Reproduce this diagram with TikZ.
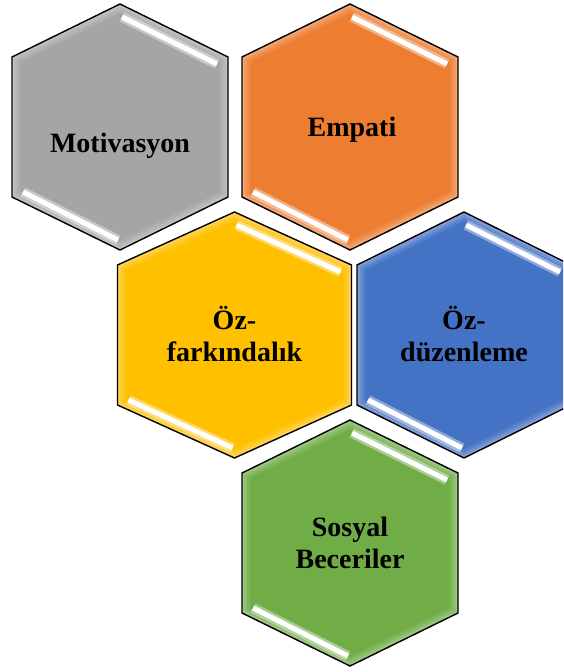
\documentclass[tikz,border=0pt]{standalone}
\usepackage{fontspec}
\setmainfont{Liberation Serif}
\definecolor{cgray}{HTML}{A5A5A5}
\definecolor{corange}{HTML}{ED7D31}
\definecolor{cyellow}{HTML}{FFC000}
\definecolor{cblue}{HTML}{4472C4}
\definecolor{cgreen}{HTML}{70AD47}
\tikzset{
  hexborder/.style={draw=black, line width=1.4pt, line join=miter},
  barglow/.style={white, opacity=0.4, line width=10pt, line cap=butt},
  barcore/.style={white, line width=5pt, line cap=butt},
  hextext/.style={font=\fontsize{28}{32}\selectfont\bfseries, align=center, inner sep=0pt},
}
\newcommand\hexcell[7]{% name, cx, cy, w, color, text, text offset
  \begin{scope}[shift={(#2,#3)}]
    \def\hexpath{(0,-123) -- (#4,-70) -- (#4,70) -- (0,123) -- (-#4,70) -- (-#4,-70) -- cycle}
    \path[fill=#5] \hexpath;
    \begin{scope}
      \clip \hexpath;
      \draw[white, opacity=0.10, line width=16pt] \hexpath;
      \draw[white, opacity=0.12, line width=10pt] \hexpath;
      \draw[white, opacity=0.15, line width=5pt] \hexpath;
    \end{scope}
    \draw[barglow] (2,-110) -- ({#4-11},-63);
    \draw[barcore] (2,-110) -- ({#4-11},-63);
    \draw[barglow] ({-#4+11},65) -- (-2,113);
    \draw[barcore] ({-#4+11},65) -- (-2,113);
    \draw[hexborder] \hexpath;
    \node[hextext] (#1) at (#7) {#6};
  \end{scope}}
\begin{document}
\begin{tikzpicture}[x=1pt, y=-1pt]
  \useasboundingbox (0,0) rectangle (563,672);
  \clip (0,0) rectangle (563,672);
  \hexcell{motivasyon}{120}{127}{108}{cgray}{Motivasyon}{0,19}
  \hexcell{empati}{350}{127}{108}{corange}{Empati}{2,3}
  \hexcell{ozfark}{234.5}{335}{117}{cyellow}{Öz-\\farkındalık}{0,-1}
  \hexcell{ozduz}{464}{335}{107}{cblue}{Öz-\\düzenleme}{0,-1}
  \hexcell{sosyal}{350}{543}{108}{cgreen}{Sosyal\\Beceriler}{0,0}
\end{tikzpicture}
\end{document}
